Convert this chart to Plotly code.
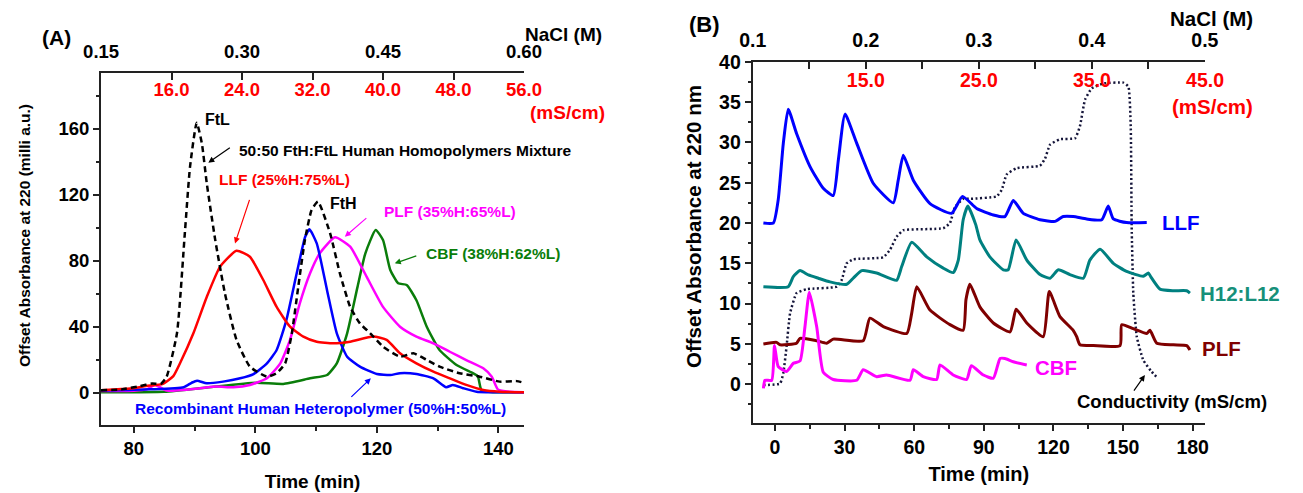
import plotly.graph_objects as go

W, H = 1303, 493
FONT = "Liberation Sans, Arial, Helvetica, sans-serif"

# ---------------- Panel A data (Time, min / absorbance, milli a.u.) ----------------
a_mix_t = [74.6, 78, 81, 83, 84.5, 85.4, 87.1, 88.4, 89.25, 90.35, 91.2, 92.0, 93.4, 95.0, 96.9, 99.1,
           101.9, 103.5, 104.9, 106.0, 107.05, 108.15, 109.25, 110.3, 112.3, 113.9, 115.6, 117.2,
           118.9, 121.0, 123.8, 126.0, 128.2, 130.3, 133.6, 136.9, 140.2, 143.0, 144.2]
a_mix_y = [1.5, 2, 4, 5.5, 5.5, 9.7, 36, 97, 137, 163.6, 151, 127, 92.5, 60, 32, 15.8,
           9.7, 11.8, 17.8, 36, 64, 92.5, 110.7, 115.8, 96.6, 72.4, 52, 42,
           36, 27.9, 21.8, 23.9, 19.8, 15.8, 11.8, 9.7, 6.7, 7.0, 6.0]

a_llf_t = [74.6, 78, 80, 82, 84.8, 86.5, 87.6, 89.8, 92.0, 94.2, 96.9, 99.1, 101.3, 103.5, 105.7,
           107.9, 110.1, 112.8, 115.6, 119.4, 121.6, 123.8, 126.5, 129.3, 132.0, 134.7, 137.5, 140.2, 144.2]
a_llf_y = [1.5, 2.2, 2.7, 4, 5.3, 10, 17.8, 36, 58, 76.4, 86, 82.4, 68.3, 52, 40,
           34, 30.9, 29.9, 30.9, 34, 32, 23.9, 17.8, 12.7, 8.7, 4.7, 1.6, 0.6, 0.3]

a_het_t = [74.6, 82.7, 88.2, 89.5, 90.4, 92.0, 94.7, 97.5, 99.7, 101.9, 103.5, 105.1, 106.8, 108.2,
           108.9, 110.1, 111.8, 113.4, 115.1, 117.2, 120.0, 122.2, 123.8, 126.5, 129.3, 131.4,
           132.5, 134.2, 136.4, 144.2]
a_het_y = [1.2, 2, 3.3, 6, 7.3, 5.7, 6.7, 8.7, 11.3, 17.8, 25.9, 44, 72.4, 94.5,
           99, 90.5, 62, 36, 21.8, 15.8, 11.3, 10.7, 11.8, 11.3, 8.7, 3.3,
           4.7, 2.7, 0.6, 0.3]

a_plf_t = [74.6, 80, 82.1, 83.5, 85.4, 90.9, 93.6, 96.4, 99.1, 101.9, 104.1, 105.7, 107.3, 109.0,
           110.6, 113.1, 115.6, 118.3, 121.0, 123.8, 126.5, 129.3, 132.0, 134.7, 137.5, 138.9,
           139.9, 141.9, 144.2]
a_plf_y = [1.0, 1.2, 2, 4.7, 1.3, 2.7, 3.7, 3.3, 4.7, 8.7, 17.8, 32, 54, 72.4,
           84.5, 94.2, 88.5, 70.3, 52, 40, 34, 29.9, 24.8, 19.8, 14.8, 9.7,
           2, 0.6, 0.3]

a_cbf_t = [74.6, 85, 93.1, 100.2, 104.6, 109.0, 111.8, 113.4, 115.1, 116.8, 118.1, 119.8, 121.0,
           122.2, 123.5, 124.9, 126.5, 128.2, 130.3, 133.1, 135.8, 136.6, 137.2, 139.1, 144.2]
a_cbf_y = [0.2, 0.5, 3.6, 6, 5.3, 8.7, 10.7, 17.8, 36, 64, 84.5, 98.6, 92.5,
           74.4, 66.3, 65.3, 56, 40, 25.9, 16.8, 11.8, 10, 1.6, 0.3, 0.3]

a_time_ticks = [80, 100, 120, 140]
a_cond_ticks = [16.0, 24.0, 32.0, 40.0, 48.0, 56.0]
a_nacl_ticks = [0.15, 0.30, 0.45, 0.60]

# ---------------- Panel B data ----------------
b_llf_t = [-5.0, -0.7, 1.4, 3.6, 5.7, 9.3, 15.1, 20.8, 25.1, 27.3, 30.2, 35.2, 42.4, 51.0, 53.1,
           55.3, 59.6, 66.8, 76.1, 80.8, 86.9, 94.1, 99.1, 102.7, 107.0, 114.2, 120.7, 124.2,
           128.5, 134.3, 140.8, 143.6, 145.8, 151.5, 160.2]
b_llf_y = [20, 20, 22.9, 29.9, 34.1, 31.1, 27, 24.3, 23.4, 27.8, 33.5, 29.9, 24.9, 22.5, 25.3,
           28.4, 25.3, 22.4, 21.2, 23.3, 21.8, 21.0, 20.8, 22.8, 21.2, 20.4, 20.2, 20.8,
           20.8, 20.5, 20.4, 22.1, 20.5, 20.05, 20.05]

b_h12_t = [-5.0, 5.7, 7.9, 10.8, 14.4, 18.7, 23.7, 30.9, 33.7, 37.4, 43.8, 52.4, 54.6, 58.9, 65.4,
           72.5, 76.8, 79.0, 81.1, 83.1, 86.5, 88.3, 92.6, 98.4, 100.5, 103.9, 108.5, 114.2, 118.5,
           122.1, 127.1, 132.9, 135.7, 140.1, 145.8, 151.5, 158.7, 160.9, 161.9, 165.9, 171.7,
           177.4, 178.8]
b_h12_y = [12.1, 12.1, 13.35, 14.1, 13.56, 13.15, 12.7, 12.4, 13.15, 14.1, 13.8, 12.9, 14.6, 17.6, 15.8,
           14.4, 13.85, 15.4, 20.4, 22.1, 19.8, 17.9, 15.8, 14.2, 14.2, 17.9, 15.4, 13.6, 13.15,
           14.2, 13.6, 13.15, 15.4, 16.75, 15.0, 14.0, 13.4, 13.8, 13.35, 11.8, 11.6,
           11.6, 11.3]

b_plf_t = [-5.0, 0.7, 2.2, 9.3, 10.8, 18.0, 22.3, 25.1, 38.0, 40.9, 46.7, 56.8, 58.9, 61.1, 66.8,
           75.4, 81.1, 82.3, 84.0, 88.3, 94.1, 101.3, 103.9, 108.5, 115.6, 118.2, 122.8, 128.5,
           130.0, 131.4, 137.2, 148.7, 149.4, 154.4, 160.2, 161.6, 164.5, 171.7, 177.4, 178.8]
b_plf_y = [5.0, 5.2, 4.9, 5.1, 5.7, 5.4, 5.1, 5.6, 5.4, 8.2, 7.15, 6.3, 8.8, 12.1, 9.2,
           7.4, 6.7, 10.5, 12.4, 9.6, 7.6, 6.5, 9.3, 7.6, 5.9, 11.5, 8.4, 6.7,
           5.9, 4.9, 4.8, 4.8, 7.4, 6.9, 6.3, 6.7, 5.1, 4.9, 4.8, 4.25]

b_cbf_t = [-5.0, -4.3, -1.4, -0.2, 1.4, 5.0, 7.9, 10.8, 12.9, 14.8, 18.0, 20.8, 25.1, 35.2, 38.0,
           43.8, 48.1, 58.2, 59.6, 63.9, 69.7, 71.1, 76.8, 82.6, 84.6, 89.8, 94.1, 97.0, 99.1,
           102.7, 108.5]
b_cbf_y = [-0.5, 0.5, 0.5, 4.8, 2.2, 1.6, 2.6, 2.9, 7.1, 11.4, 7.1, 1.5, 0.6, 0.5, 1.8,
           0.95, 1.15, 0.5, 1.8, 0.95, 0.6, 2.4, 1.15, 0.6, 2.3, 1.15, 0.75, 3.2, 3.2,
           2.8, 2.4]

b_cond_t = [-5.0, 2.2, 3.6, 5.0, 6.5, 9.3, 13.7, 26.6, 28.7, 30.9, 33.7, 46.7, 49.6, 52.4, 55.3,
            72.5, 75.4, 77.6, 81.1, 84.0, 95.5, 97.7, 99.8, 104.1, 114.2, 116.4, 118.5, 122.8,
            129.3, 131.4, 133.6, 136.5, 141.5, 150.1, 152.3, 153.3, 153.7, 154.4, 155.9, 158.7,
            162.3, 165.1]
b_cond_y = [-0.1, 0.1, 1.4, 4.7, 8.8, 11.3, 11.8, 12.1, 12.9, 15.0, 15.5, 15.75, 16.7, 18.3, 19.1,
            19.35, 20.0, 22.0, 23.0, 23.0, 23.3, 24.1, 26.0, 26.8, 27.1, 28.0, 29.7, 30.4,
            30.5, 32.0, 35.3, 36.7, 37.3, 37.4, 36.9, 32.0, 19.6, 11.3, 5.9, 3.0,
            1.56, 0.74]

b_cond_ticks = [10, 15, 20, 25, 30, 35, 40, 45]
b_cond_labels = ["", "15.0", "", "25.0", "", "35.0", "", "45.0"]
b_nacl_ticks = [0.1, 0.2, 0.3, 0.4, 0.5]

# ---------------- layout geometry ----------------
A_X = [101 / W, 524 / W]
A_Y = [1 - 425 / H, 1 - 73 / H]
B_X = [752.7 / W, 1205 / W]
B_Y = [1 - 422.7 / H, 1 - 61.7 / H]

def px(x):
    return x / W

def py(y):
    return 1 - y / H

fig = go.Figure()

def add(t, v, color, xa, ya, width=2.5, dash=None, smoothing=0.5):
    fig.add_trace(go.Scatter(x=t, y=v, xaxis=xa, yaxis=ya, mode="lines",
                             line=dict(color=color, width=width, dash=dash,
                                       shape="spline", smoothing=smoothing),
                             hoverinfo="skip", showlegend=False))

# Panel A
add(a_cbf_t, a_cbf_y, "#0a7d0a", "x", "y")
add(a_plf_t, a_plf_y, "#ff00ff", "x", "y")
add(a_het_t, a_het_y, "#0000ff", "x", "y")
add(a_llf_t, a_llf_y, "#ff0000", "x", "y")
add(a_mix_t, a_mix_y, "#000000", "x", "y", dash="6px,4px")

# Panel B
add(b_cond_t, b_cond_y, "#15153a", "x2", "y2", width=2.5, dash="2px,2.5px", smoothing=0.4)
add(b_llf_t, b_llf_y, "#0000ff", "x2", "y2", width=3)
add(b_h12_t, b_h12_y, "#008080", "x2", "y2", width=3)
add(b_plf_t, b_plf_y, "#7f0000", "x2", "y2", width=3)
add(b_cbf_t, b_cbf_y, "#ff00ff", "x2", "y2", width=3)

# empty traces so that the secondary (top) axes are created
for xa, ya in [("x3", "y"), ("x4", "y"), ("x5", "y2"), ("x6", "y2")]:
    fig.add_trace(go.Scatter(x=[], y=[], xaxis=xa, yaxis=ya, showlegend=False, hoverinfo="skip"))

LC = "#222222"
base = dict(showline=True, linecolor=LC, linewidth=2, ticks="outside", tickcolor=LC,
            tickwidth=2, ticklen=6, showgrid=False, zeroline=False, automargin=False)

def tf(size, color="black"):
    return dict(family=FONT, size=size, color=color, weight="bold")

fig.update_layout(
    template="none",
    width=W, height=H, margin=dict(l=0, r=0, t=0, b=0, pad=0, autoexpand=False),
    paper_bgcolor="white", plot_bgcolor="white", showlegend=False,
    font=dict(family=FONT, color="black"),
    xaxis=dict(base, domain=A_X, anchor="y", range=[74.6, 144.2], tickmode="array",
               tickvals=a_time_ticks, tickfont=tf(18.5),
               minor=dict(ticks="outside", dtick=10, tick0=0, ticklen=4, tickwidth=2, tickcolor=LC),
               title=dict(text="Time (min)", font=tf(19), standoff=16)),
    yaxis=dict(base, domain=A_Y, anchor="x", range=[-19.6, 193.8], tick0=0, dtick=40,
               tickfont=tf(18.5),
               minor=dict(ticks="outside", dtick=20, tick0=0, ticklen=3, tickwidth=2, tickcolor=LC)),
    xaxis3=dict(domain=A_X, anchor="y", overlaying="x", side="top", range=[8.0, 56.0001],
                tickmode="array", tickvals=a_cond_ticks,
                ticktext=[f"{v:.1f}" for v in a_cond_ticks],
                showline=True, linecolor=LC, linewidth=2, ticks="inside", ticklen=7,
                tickwidth=2, tickcolor=LC, ticklabelposition="inside", ticklabeloverflow="allow",
                ticklabelstandoff=4,
                tickfont=tf(18.5, "#ff0000"), showgrid=False, zeroline=False, automargin=False),
    xaxis4=dict(domain=A_X, anchor="y", overlaying="x", side="top", range=[0.1499, 0.6001],
                tickmode="array", tickvals=a_nacl_ticks,
                ticktext=[f"{v:.2f}" for v in a_nacl_ticks],
                showline=False, ticks="", ticklabelstandoff=10,
                tickfont=tf(18.5), showgrid=False, zeroline=False, automargin=False),
    xaxis2=dict(base, domain=B_X, anchor="y2", range=[-9.6, 185.3], tick0=0, dtick=30,
                tickfont=tf(19.5),
                minor=dict(ticks="outside", dtick=15, tick0=0, ticklen=4, tickwidth=2, tickcolor=LC),
                title=dict(text="Time (min)", font=tf(20), standoff=10)),
    yaxis2=dict(base, domain=B_Y, anchor="x2", range=[-4.76, 40.0], tick0=0, dtick=5,
                tickfont=tf(19.5),
                minor=dict(ticks="outside", dtick=2.5, tick0=0, ticklen=3, tickwidth=2, tickcolor=LC)),
    xaxis5=dict(domain=B_X, anchor="y2", overlaying="x2", side="top", range=[5.0, 45.0001],
                tickmode="array", tickvals=b_cond_ticks, ticktext=b_cond_labels,
                showline=True, linecolor=LC, linewidth=2, ticks="inside", ticklen=7,
                tickwidth=2, tickcolor=LC, ticklabelposition="inside", ticklabeloverflow="allow",
                ticklabelstandoff=6,
                tickfont=tf(19.5, "#ff0000"), showgrid=False, zeroline=False, automargin=False),
    xaxis6=dict(domain=B_X, anchor="y2", overlaying="x2", side="top", range=[0.0999, 0.5001],
                tickmode="array", tickvals=b_nacl_ticks,
                ticktext=[f"{v:.1f}" for v in b_nacl_ticks],
                showline=False, ticks="", ticklabelstandoff=10,
                tickfont=tf(19.5), showgrid=False, zeroline=False, automargin=False),
)

ann = []

def label(text, x, y, color, size, xref="paper", yref="paper", xanchor="left", angle=0):
    ann.append(dict(text=text, x=x, y=y, xref=xref, yref=yref, xanchor=xanchor,
                    yanchor="middle", showarrow=False, textangle=angle,
                    font=tf(size, color)))

def arrow(xh, yh, ax, ay, color, xref, yref):
    ann.append(dict(text="", x=xh, y=yh, xref=xref, yref=yref, ax=ax, ay=ay,
                    axref="pixel", ayref="pixel", showarrow=True, arrowhead=2,
                    arrowsize=1, arrowwidth=1.2, arrowcolor=color))

# panel letters and axis captions
label("(A)", px(56.7), py(38), "black", 21, xanchor="center")
label("(B)", px(704), py(24), "black", 22, xanchor="center")
label("NaCl (M)", px(523), py(34), "black", 19)
label("(mS/cm)", px(528), py(112.5), "#ff0000", 19)
label("NaCl (M)", px(1168), py(19), "black", 20.5)
label("(mS/cm)", px(1170), py(107), "#ff0000", 20.5)
label("Offset Absorbance at 220 (milli a.u.)", px(25), py(236), "black", 15.5,
      xanchor="center", angle=-90)
label("Offset Absorbance at 220 nm", px(693), py(227), "black", 20.5,
      xanchor="center", angle=-90)

# panel A curve labels
label("FtL", 91.4, 165.9, "black", 16, "x", "y")
label("50:50 FtH:FtL Human Homopolymers Mixture", 96.93, 147.1, "black", 15.5, "x", "y")
label("LLF (25%H:75%L)", 93.74, 129.2, "#ff0000", 15.5, "x", "y")
label("FtH", 111.98, 114.7, "black", 16, "x", "y")
label("PLF (35%H:65%L)", 120.76, 109.7, "#ff00ff", 15.5, "x", "y")
label("CBF (38%H:62%L)", 127.7, 84.5, "#0a7d0a", 15.5, "x", "y")
label("Recombinant Human Heteropolymer (50%H:50%L)", 79.93, -9.5, "#0000ff", 15.5, "x", "y")
arrow(92.26, 139.4, 23, -16, "black", "x", "y")
arrow(96.65, 90.5, 15, -45, "#ff0000", "x", "y")
arrow(114.72, 94.5, 23, -20, "#ff00ff", "x", "y")
arrow(122.94, 78.4, 23, -8, "#0a7d0a", "x", "y")
arrow(119.0, 8.7, -21, 20, "#0000ff", "x", "y")

# panel B curve labels
label("LLF", 165.9, 20.1, "#0000ff", 20.5, "x2", "y2")
label("H12:L12", 182.3, 11.3, "#16907a", 20.5, "x2", "y2")
label("PLF", 183.1, 4.44, "#7f0000", 20.5, "x2", "y2")
label("CBF", 111.2, 2.08, "#ff00ff", 20.5, "x2", "y2")
label("Conductivity (mS/cm)", 129.3, -2.13, "black", 18.5, "x2", "y2")
arrow(159.4, 1.15, -12, 17, "black", "x2", "y2")

fig.update_layout(annotations=ann)
fig.write_html(
    "out.html",
    config={"displayModeBar": False, "responsive": False},
    post_script="document.body.style.margin='0px';document.body.style.overflow='hidden';",
)
